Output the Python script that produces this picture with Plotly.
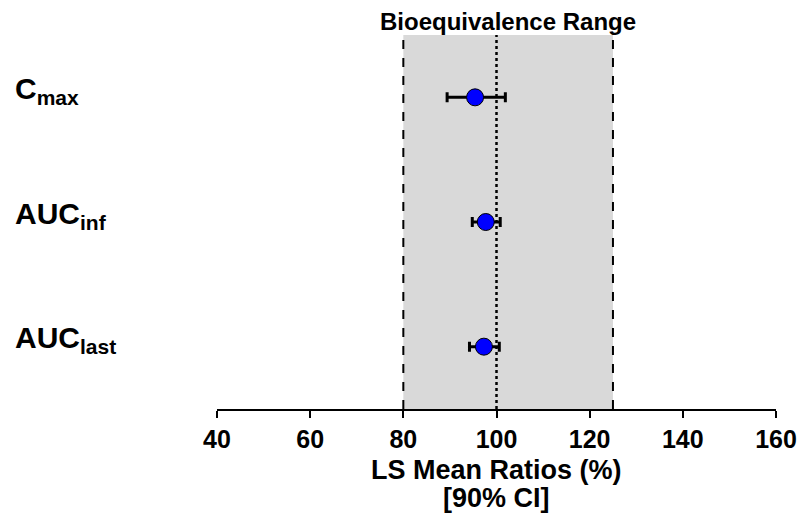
import plotly.graph_objects as go

params = ["C<sub>max</sub>", "AUC<sub>inf</sub>", "AUC<sub>last</sub>"]
ypos = [3, 2, 1]
ratio = [95.4, 97.7, 97.3]
ci_low = [89.4, 94.8, 94.2]
ci_high = [101.9, 100.8, 100.6]
be_low, be_high, ref = 80, 125, 100
xticks = [40, 60, 80, 100, 120, 140, 160]
xtitle_lines = ["LS Mean Ratios (%)", "[90% CI]"]

FONT = "'Liberation Sans', Arial, sans-serif"

fig = go.Figure()
fig.add_trace(go.Scatter(
    x=ratio, y=ypos, mode="markers",
    marker=dict(size=17, color="#0000ff", line=dict(color="black", width=1)),
    error_x=dict(type="data", symmetric=False,
                 array=[h - r for h, r in zip(ci_high, ratio)],
                 arrayminus=[r - l for l, r in zip(ci_low, ratio)],
                 color="black", thickness=3, width=5),
    showlegend=False, hoverinfo="skip"))

fig.add_shape(type="rect", xref="x", yref="paper", x0=be_low, x1=be_high, y0=0, y1=1,
              fillcolor="#d9d9d9", line=dict(width=0), layer="below")
for xv, dash, w in [(be_low, "dash", 2), (be_high, "dash", 2), (ref, "dot", 2.5)]:
    fig.add_shape(type="line", xref="x", yref="paper", x0=xv, x1=xv, y0=0, y1=1,
                  line=dict(color="black", width=w, dash=dash), layer="below")

fig.add_annotation(x=(be_low + be_high) / 2, y=1, xref="x", yref="paper",
                   text="<b>Bioequivalence Range</b>", showarrow=False,
                   yanchor="bottom", yshift=-2,
                   font=dict(family=FONT, size=24, color="black"))

for p, yv in zip(params, ypos):
    fig.add_annotation(x=0, y=yv, xref="paper", yref="y", xanchor="left",
                       xshift=-204, yshift=7, text="<b>" + p + "</b>", showarrow=False,
                       font=dict(family=FONT, size=30, color="black"))

for line, shift in zip(xtitle_lines, [-61, -89]):
    fig.add_annotation(x=0.5, y=0, xref="paper", yref="paper", yanchor="middle",
                       yshift=shift, text="<b>" + line + "</b>", showarrow=False,
                       font=dict(family=FONT, size=27, color="black"))

fig.update_layout(
    width=802, height=517,
    margin=dict(l=217, r=26, t=35, b=108, autoexpand=False),
    plot_bgcolor="white", paper_bgcolor="white",
    font=dict(family=FONT, color="black"),
    xaxis=dict(range=[40, 160], tickvals=xticks, automargin=False,
               tickfont=dict(family=FONT, size=25, color="black", weight="bold"),
               showline=True, linecolor="black", linewidth=2,
               ticks="outside", ticklen=7, tickwidth=2, tickcolor="black",
               showgrid=False, zeroline=False),
    yaxis=dict(range=[0.5, 3.5], visible=False, showgrid=False, zeroline=False),
)

fig.write_html("out.html", config={"displayModeBar": False},
               post_script="document.body.style.margin='0';")
